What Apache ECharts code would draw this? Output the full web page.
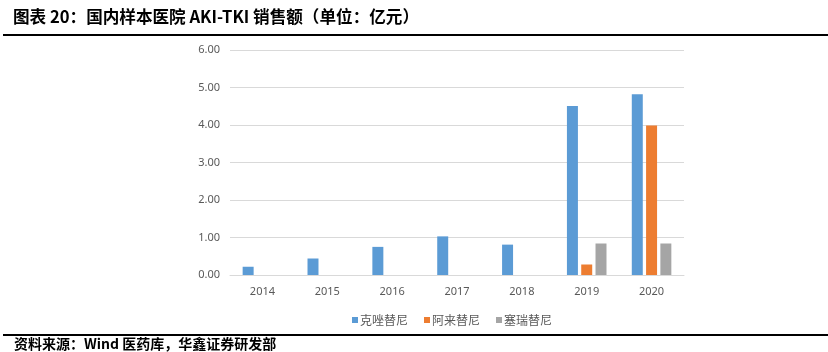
<!DOCTYPE html>
<html>
<head>
<meta charset="utf-8">
<script src="https://cdn.jsdelivr.net/npm/echarts@6/dist/echarts.min.js"></script>
<style>
  html, body { margin: 0; padding: 0; background: #fff; }
  #chart { width: 828px; height: 352px; }
</style>
</head>
<body>
<div id="chart"></div>
<script>
// 年份与各药品销售额（亿元）
const years = ['2014', '2015', '2016', '2017', '2018', '2019', '2020']
const crizotinib = [0.22, 0.44, 0.75, 1.03, 0.81, 4.51, 4.82]
const alectinib = [null, null, null, null, null, 0.28, 3.99]
const ceritinib = [null, null, null, null, null, 0.84, 0.84]
const seriesNames = ['克唑替尼', '阿来替尼', '塞瑞替尼']

const chart = echarts.init(document.getElementById('chart'))

const axisText = { color: '#595959', fontSize: 11, fontFamily: 'Noto Sans, sans-serif' }
const cjkBold = '"Noto Sans CJK SC", sans-serif'

chart.setOption({
  animation: false,
  color: ['#5b9bd5', '#ed7d31', '#a5a5a5'],
  grid: { left: 230, right: 144, top: 50, bottom: 77 },
  legend: {
    data: seriesNames,
    left: 347,
    top: 309,
    icon: 'rect',
    itemWidth: 6,
    itemHeight: 6,
    itemGap: 16,
    textStyle: { color: '#595959', fontSize: 12, fontFamily: cjkBold, padding: [0, 0, 0, -3] }
  },
  xAxis: {
    type: 'category',
    data: years,
    axisLine: { lineStyle: { color: '#d9d9d9' } },
    axisTick: { show: false },
    axisLabel: { ...axisText, margin: 11 }
  },
  yAxis: {
    type: 'value',
    min: 0,
    max: 6,
    interval: 1,
    axisLine: { show: false },
    axisTick: { show: false },
    axisLabel: { ...axisText, margin: 10, formatter: v => v.toFixed(2) },
    splitLine: { lineStyle: { color: '#d9d9d9' } }
  },
  series: [
    { name: seriesNames[0], type: 'bar', data: crizotinib, barGap: '30%', barCategoryGap: '39%' },
    { name: seriesNames[1], type: 'bar', data: alectinib, barGap: '30%', barCategoryGap: '39%' },
    { name: seriesNames[2], type: 'bar', data: ceritinib, barGap: '30%', barCategoryGap: '39%' }
  ],
  graphic: [
    {
      type: 'text', left: 13, top: 8,
      style: {
        text: '图表 20：国内样本医院 AKI-TKI 销售额（单位：亿元）',
        fill: '#000', fontSize: 16.6, fontWeight: 'bold', fontFamily: cjkBold
      }
    },
    { type: 'rect', shape: { x: 3, y: 34, width: 825, height: 2 }, style: { fill: '#000' } },
    { type: 'rect', shape: { x: 3, y: 334, width: 825, height: 2 }, style: { fill: '#000' } },
    {
      type: 'text', left: 14, top: 337,
      style: {
        text: '资料来源：Wind 医药库，华鑫证券研发部',
        fill: '#000', fontSize: 14, fontWeight: 'bold', fontFamily: cjkBold
      }
    }
  ]
})
</script>
</body>
</html>
